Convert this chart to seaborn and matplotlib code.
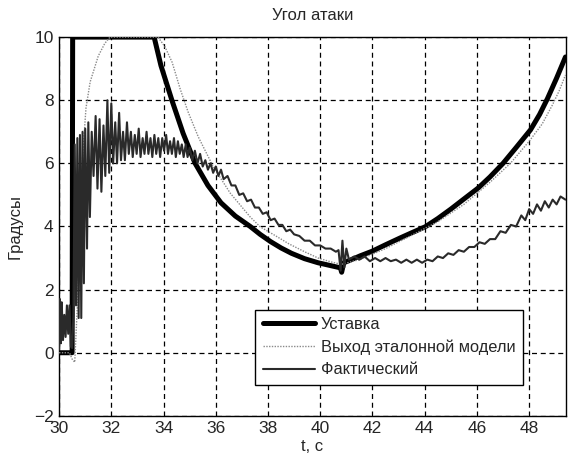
import matplotlib
matplotlib.use("Agg")
import matplotlib.pyplot as plt
import seaborn as sns
import pandas as pd

# Уставка (setpoint)
set_t = [30.0, 30.5, 30.52, 33.64, 33.9, 34.32, 34.75, 35.21, 35.7, 36.2, 36.75, 37.32,
         37.7, 38.1, 38.5, 38.9, 39.4, 39.92, 40.4, 40.77, 40.82, 40.9, 41.2, 41.53,
         42.0, 42.5, 43.07, 43.5, 44.02, 44.5, 45.0, 45.5, 46.05, 46.5, 47.0, 47.5,
         48.05, 48.4, 48.7, 49.05, 49.39]
set_v = [0.0, 0.0, 10.0, 10.0, 9.1, 8.0, 6.95, 6.0, 5.3, 4.75, 4.33, 4.0,
         3.75, 3.52, 3.32, 3.15, 2.98, 2.85, 2.76, 2.69, 2.55, 2.85, 2.95, 3.07,
         3.22, 3.42, 3.64, 3.8, 3.99, 4.25, 4.55, 4.87, 5.22, 5.57, 6.0, 6.5,
         7.06, 7.55, 8.05, 8.7, 9.37]

# Выход эталонной модели (reference model)
ref_t = [30.0, 30.4, 30.5, 30.6, 30.7, 30.8, 30.9, 31.03, 31.19, 31.5, 31.75, 31.95,
         33.79, 34.05, 34.33, 34.64, 34.94, 35.33, 35.9, 36.55, 37.32, 37.7, 38.3,
         38.8, 39.4, 39.92, 40.4, 40.8, 41.5, 42.5, 43.5, 44.5, 45.5, 46.5, 47.28,
         48.0, 48.5, 48.89, 49.15, 49.39]
ref_v = [0.0, 0.0, -0.2, -0.3, 1.5, 4.0, 6.2, 7.75, 8.58, 9.4, 9.8, 10.0,
         10.0, 9.7, 9.2, 8.35, 7.63, 6.84, 5.9, 5.06, 4.3, 3.99, 3.7,
         3.45, 3.2, 3.0, 2.88, 2.8, 2.95, 3.3, 3.72, 4.15, 4.7, 5.4, 6.0,
         6.7, 7.25, 7.85, 8.3, 8.8]

# Фактический (actual)
act_t = [30.00, 30.03, 30.07, 30.10, 30.15, 30.20, 30.25, 30.30, 30.35, 30.40, 30.45,
         30.50, 30.55, 30.60, 30.65, 30.70, 30.75, 30.80, 30.85, 30.90, 30.95, 31.00,
         31.07, 31.12, 31.18, 31.25, 31.32, 31.40, 31.47, 31.55, 31.62, 31.70, 31.77,
         31.85, 31.92, 32.00, 32.07, 32.15, 32.22, 32.30, 32.37, 32.45, 32.52, 32.60,
         32.67, 32.75, 32.82, 32.90, 32.97, 33.05, 33.12, 33.20, 33.27, 33.35, 33.42,
         33.50, 33.57, 33.65, 33.72, 33.80, 33.87, 33.95, 34.02, 34.10, 34.17, 34.25,
         34.32, 34.40, 34.47, 34.55, 34.62, 34.70, 34.77, 34.85, 34.92, 35.00, 35.10,
         35.20, 35.30, 35.40, 35.50, 35.60, 35.70, 35.80, 35.90, 36.00, 36.10, 36.20,
         36.30, 36.45, 36.60, 36.75, 36.90, 37.05, 37.20, 37.35, 37.50, 37.65, 37.80,
         37.95, 38.10, 38.25, 38.40, 38.55, 38.70, 38.85, 39.00, 39.20, 39.40, 39.60,
         39.80, 40.00, 40.20, 40.40, 40.60, 40.70, 40.78, 40.85, 40.92, 41.00, 41.10,
         41.30, 41.50, 41.70, 41.90, 42.10, 42.30, 42.50, 42.70, 42.90, 43.10, 43.30,
         43.50, 43.70, 43.90, 44.10, 44.30, 44.50, 44.70, 44.90, 45.10, 45.30, 45.50,
         45.70, 45.90, 46.10, 46.30, 46.50, 46.70, 46.90, 47.10, 47.30, 47.50, 47.70,
         47.85, 48.00, 48.15, 48.30, 48.45, 48.60, 48.75, 48.90, 49.05, 49.20, 49.39]
act_v = [0.1, 1.7, 0.3, 1.6, 0.4, 1.2, 0.5, 1.5, 0.6, 1.5, 0.2,
         0.15, 1.2, 6.6, 1.5, 6.8, 1.1, 6.9, 1.1, 7.0, 2.2, 7.1,
         3.3, 7.3, 4.3, 7.0, 5.6, 7.5, 5.2, 7.4, 5.1, 7.2, 5.6,
         8.0, 5.7, 7.9, 6.0, 7.3, 6.0, 7.6, 6.1, 7.0, 6.1, 7.3,
         6.3, 7.0, 6.2, 6.9, 6.3, 7.1, 6.2, 6.8, 6.3, 7.0, 6.3,
         6.8, 6.2, 6.9, 6.3, 6.8, 6.2, 6.8, 6.4, 6.9, 6.3, 6.7,
         6.3, 6.8, 6.2, 6.7, 6.3, 6.6, 6.2, 6.6, 6.2, 6.5, 6.1,
         6.4, 6.0, 6.3, 5.9, 6.1, 5.8, 6.0, 5.7, 5.9, 5.6, 5.8,
         5.5, 5.6, 5.3, 5.3, 5.0, 5.05, 4.8, 4.85, 4.6, 4.6, 4.4,
         4.45, 4.2, 4.25, 4.05, 4.05, 3.85, 3.9, 3.75, 3.7, 3.55, 3.55,
         3.4, 3.4, 3.3, 3.3, 3.2, 3.25, 2.6, 3.55, 2.7, 3.3, 2.95,
         3.05, 2.95, 3.05, 2.9, 3.0, 2.9, 3.0, 2.9, 2.95, 2.85, 2.95,
         2.85, 2.95, 2.85, 2.95, 2.9, 3.05, 3.0, 3.15, 3.1, 3.25, 3.2,
         3.35, 3.35, 3.5, 3.45, 3.6, 3.6, 3.85, 3.8, 4.05, 4.0, 4.35,
         4.2, 4.55, 4.4, 4.7, 4.5, 4.8, 4.6, 4.85, 4.7, 4.95, 4.85]

x_ticks = [30, 32, 34, 36, 38, 40, 42, 44, 46, 48]
y_ticks = [-2, 0, 2, 4, 6, 8, 10]

sns.set_style("white")
plt.rcParams['font.family'] = ['Liberation Sans', 'DejaVu Sans']

fig = plt.figure(figsize=(5.68, 4.58), dpi=100)
ax = fig.add_axes([0.104, 0.092, 0.892, 0.827])

df_set = pd.DataFrame({'t': set_t, 'v': set_v})
df_ref = pd.DataFrame({'t': ref_t, 'v': ref_v})
df_act = pd.DataFrame({'t': act_t, 'v': act_v})

sns.lineplot(data=df_set, x='t', y='v', ax=ax, color='black', linewidth=3.6,
             estimator=None, label='Уставка', zorder=3)
sns.lineplot(data=df_ref, x='t', y='v', ax=ax, color='#8a8a8a', linewidth=1.0,
             linestyle=(0, (1, 1)), estimator=None, label='Выход эталонной модели', zorder=4)
sns.lineplot(data=df_act, x='t', y='v', ax=ax, color='#2a2a2a', linewidth=1.5,
             estimator=None, label='Фактический', zorder=5)

ax.set_xlim(30, 49.4)
ax.set_ylim(-2, 10)
ax.set_xticks(x_ticks)
ax.set_yticks(y_ticks)
ax.tick_params(labelsize=12.5, length=0, pad=4)
ax.grid(True, color='black', linestyle=(0, (4, 3)), linewidth=0.9)
for s in ax.spines.values():
    s.set_color('black')
    s.set_linewidth(1.0)

ax.set_title('Угол атаки', fontsize=12, pad=12)
ax.set_xlabel('t, с', fontsize=12, labelpad=2)
ax.set_ylabel('Градусы', fontsize=12, labelpad=8)

leg = ax.legend(loc='lower left', bbox_to_anchor=(0.387, 0.082), borderaxespad=0,
                fontsize=11.8, frameon=True, fancybox=False, edgecolor='black',
                framealpha=1, handlelength=3.2, handletextpad=0.35, borderpad=0.45,
                labelspacing=0.45)
leg.get_frame().set_linewidth(1.0)

fig.savefig('out.png', dpi=100)
